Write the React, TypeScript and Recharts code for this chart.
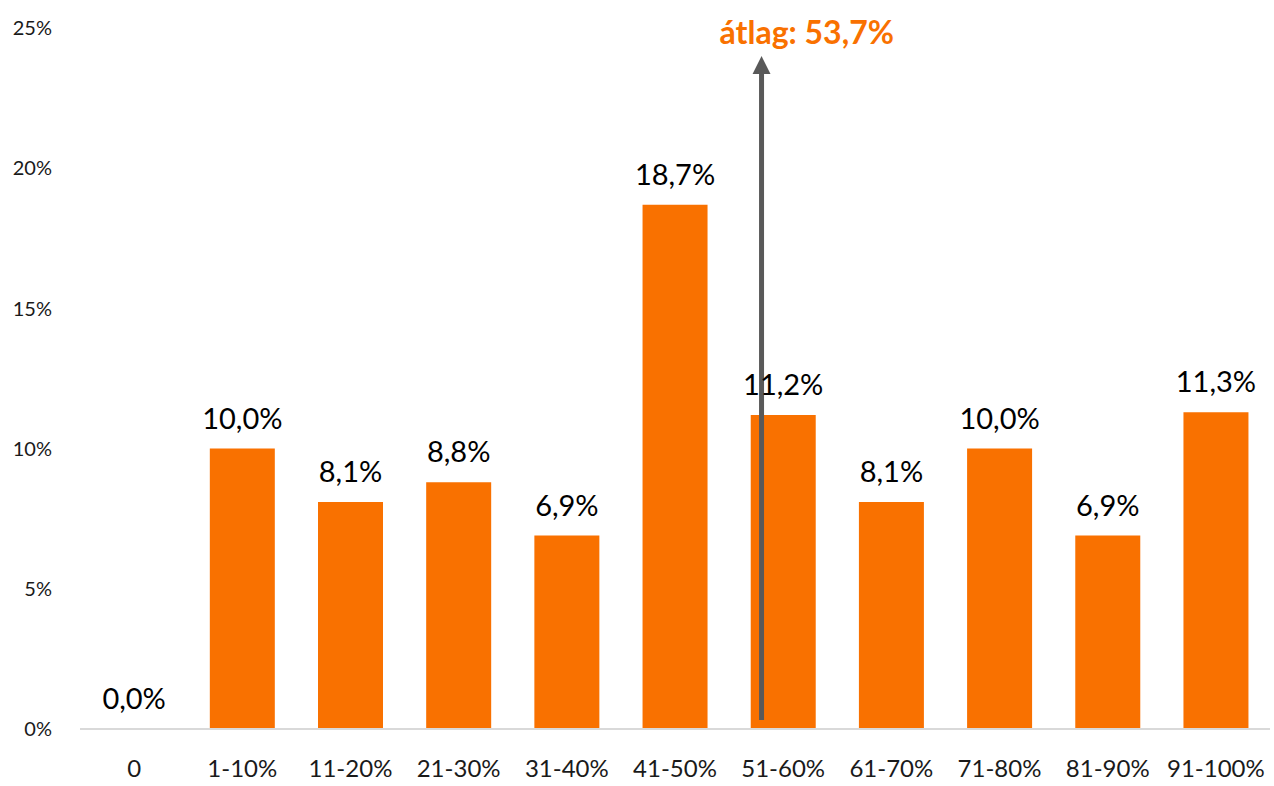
import React from "react";
import {
  BarChart,
  Bar,
  XAxis,
  YAxis,
  LabelList,
  ReferenceLine,
} from "recharts";

// categories and values
const categories = [
  "0",
  "1-10%",
  "11-20%",
  "21-30%",
  "31-40%",
  "41-50%",
  "51-60%",
  "61-70%",
  "71-80%",
  "81-90%",
  "91-100%",
];
const shares = [0.0, 10.0, 8.1, 8.8, 6.9, 18.7, 11.2, 8.1, 10.0, 6.9, 11.3];
const yTicks = [0, 5, 10, 15, 20, 25];
const average = 53.7;

const data = categories.map((c, i) => ({ name: c, value: shares[i] }));

const CHART_W = 1274;
const CHART_H = 786;
const Y_AXIS_W = 80;
const RIGHT = 4;
const bandWidth = (CHART_W - Y_AXIS_W - RIGHT) / categories.length;
// fraction of the 51-60% band where the average falls
const avgFrac = (average - 51) / 9;

const ORANGE = "#F97100";
const FONT = "Lato, 'Open Sans', sans-serif";

const fmt = (v: number) => `${v.toFixed(1).replace(".", ",")}%`;

const ArrowShape = (props: any) => {
  const { y1, y2 } = props;
  const x = props.x1 + avgFrac * bandWidth;
  const top = Math.min(y1, y2);
  const bottom = Math.max(y1, y2);
  return (
    <g>
      <line x1={x} x2={x} y1={bottom} y2={top + 16} stroke="#595959" strokeWidth={5} />
      <polygon
        points={`${x},${top} ${x - 9},${top + 18} ${x + 9},${top + 18}`}
        fill="#595959"
      />
      <text
        x={x - 42}
        y={top - 12}
        fill={ORANGE}
        fontSize={32}
        fontWeight={700}
        fontFamily={FONT}
      >
        {`átlag: ${average.toFixed(1).replace(".", ",")}%`}
      </text>
    </g>
  );
};

const App: React.FC = () => {
  return (
    <div style={{ position: "absolute", left: 0, top: 0, fontFamily: FONT }}>
      <BarChart
        width={CHART_W}
        height={CHART_H}
        data={data}
        margin={{ top: 28, right: RIGHT, left: 0, bottom: 0 }}
        barCategoryGap="20%"
      >
        <XAxis
          dataKey="name"
          height={57}
          axisLine={{ stroke: "#d9d9d9", strokeWidth: 2 }}
          tickLine={false}
          tickSize={0}
          tickMargin={31}
          interval={0}
          tick={{ fontSize: 24, fill: "#1a1a1a", fontFamily: FONT }}
        />
        <YAxis
          width={Y_AXIS_W}
          domain={[0, 25]}
          ticks={yTicks}
          axisLine={false}
          tickLine={false}
          tickSize={0}
          tickMargin={28}
          tickFormatter={(v: number) => `${v}%`}
          tick={{ fontSize: 20, fill: "#1a1a1a", fontFamily: FONT }}
        />
        <Bar dataKey="value" fill={ORANGE} minPointSize={0.1} isAnimationActive={false}>
          <LabelList
            dataKey="value"
            position="top"
            offset={20}
            formatter={(v: any) => fmt(Number(v))}
            style={{ fontSize: 29, fill: "#000", fontFamily: FONT }}
          />
        </Bar>
        <ReferenceLine
          position="start"
          segment={[
            { x: "51-60%", y: 0.32 },
            { x: "51-60%", y: 24.0 },
          ]}
          shape={ArrowShape}
          ifOverflow="visible"
        />
      </BarChart>
    </div>
  );
};

export default App;
